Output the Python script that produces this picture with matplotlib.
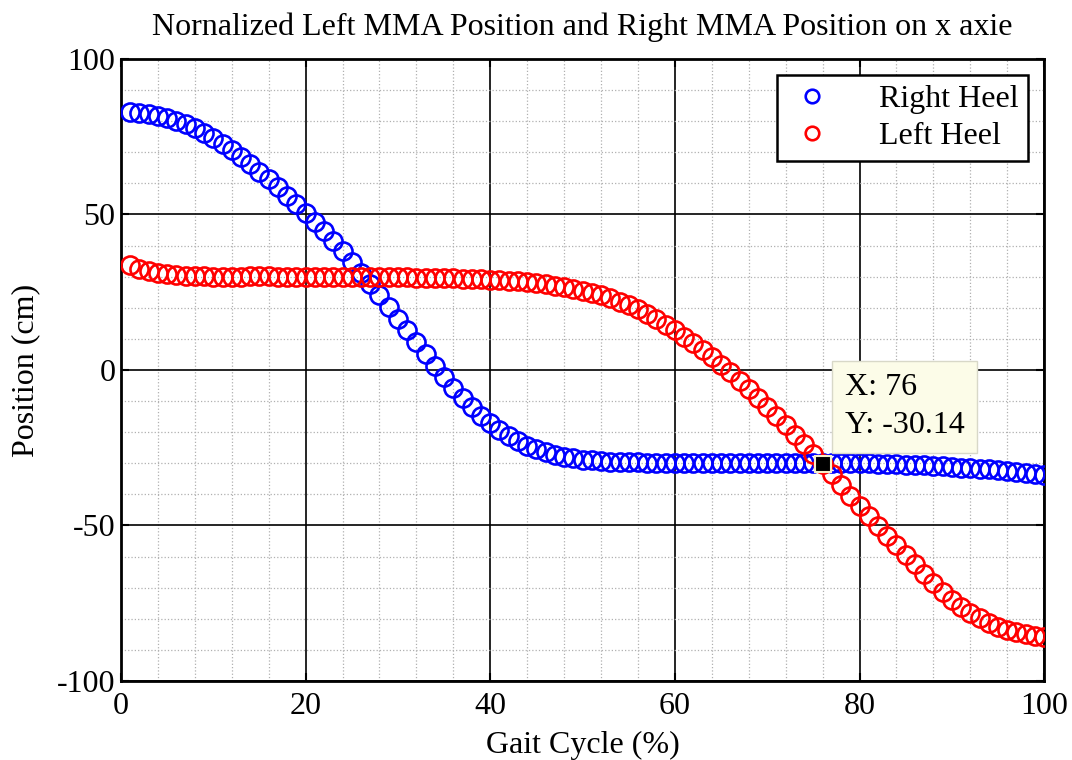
import matplotlib.pyplot as plt
import numpy as np
from matplotlib.ticker import MultipleLocator

# donnees
gait = list(range(1, 101))

right_heel = [82.8, 82.6, 82.2, 81.7, 81.0, 80.1, 79.0, 77.7, 76.2, 74.5,
              72.6, 70.6, 68.5, 66.2, 63.8, 61.3, 58.7, 56.0, 53.3, 50.6,
              47.7, 44.7, 41.5, 38.2, 34.8, 31.3, 27.7, 24.0, 20.3, 16.5,
              12.7, 8.9, 5.0, 1.2, -2.4, -5.8, -9.0, -12.0, -14.7, -17.2,
              -19.4, -21.3, -22.9, -24.3, -25.5, -26.5, -27.3, -27.9, -28.4, -28.8,
              -29.1, -29.3, -29.5, -29.6, -29.7, -29.7, -29.8, -29.8, -29.8, -29.8,
              -29.8, -29.8, -29.8, -29.8, -29.8, -29.8, -29.8, -29.8, -29.8, -29.8,
              -29.8, -29.8, -29.8, -29.8, -29.8, -29.8, -29.8, -29.9, -29.9, -30.0,
              -30.0, -30.1, -30.2, -30.3, -30.4, -30.5, -30.7, -30.8, -31.0, -31.2,
              -31.4, -31.6, -31.8, -32.0, -32.3, -32.6, -32.9, -33.2, -33.5, -33.8]

left_heel = [33.8, 32.6, 31.8, 31.2, 30.8, 30.5, 30.3, 30.2, 30.1, 30.0,
             30.0, 30.0, 30.0, 30.1, 30.1, 30.1, 30.0, 30.0, 30.0, 30.0,
             29.9, 29.9, 29.9, 29.9, 29.9, 29.9, 29.9, 29.9, 29.8, 29.8,
             29.8, 29.7, 29.7, 29.6, 29.6, 29.5, 29.4, 29.3, 29.2, 29.0,
             28.9, 28.7, 28.5, 28.2, 27.9, 27.5, 27.1, 26.6, 26.1, 25.5,
             24.8, 24.0, 23.1, 22.0, 20.8, 19.5, 18.0, 16.4, 14.6, 12.7,
             10.7, 8.6, 6.4, 4.1, 1.7, -0.8, -3.4, -6.1, -8.9, -11.8,
             -14.7, -17.7, -20.8, -23.9, -27.0, -30.14, -33.5, -37.0, -40.4, -43.8,
             -47.0, -50.2, -53.3, -56.4, -59.5, -62.5, -65.5, -68.5, -71.3, -73.9,
             -76.2, -78.2, -79.9, -81.3, -82.5, -83.5, -84.3, -85.0, -85.5, -85.9]

tip_x = 76
tip_y = -30.14

plt.rcParams['font.family'] = ['Liberation Serif', 'DejaVu Serif']
plt.rcParams['axes.unicode_minus'] = False

FS = 23

fig = plt.figure(figsize=(10.72, 7.6), dpi=100)
ax = fig.add_axes([0.1129, 0.104, 0.8611, 0.8184])

ax.plot(gait, right_heel, 'o', mfc='none', mec='blue', ms=13, mew=1.9,
        label='Right Heel', zorder=3)
ax.plot(gait, left_heel, 'o', mfc='none', mec='red', ms=13, mew=1.9,
        label='Left Heel', zorder=3)

# data tip
ax.plot(tip_x, tip_y, 's', color='black', mec='#f5f0c8', ms=12, mew=1.5, zorder=5)
ax.annotate('X: %d\nY: %.2f' % (tip_x, tip_y), xy=(tip_x, tip_y),
            xytext=(16, 17), textcoords='offset points', fontsize=FS,
            va='bottom', ha='left', linespacing=1.4,
            bbox=dict(boxstyle='square,pad=0.4', fc='#fcfce8', ec='#d8d8c8', lw=1),
            zorder=6)

ax.set_xlim(0, 100)
ax.set_ylim(-100, 100)
ax.xaxis.set_major_locator(MultipleLocator(20))
ax.xaxis.set_minor_locator(MultipleLocator(4))
ax.yaxis.set_major_locator(MultipleLocator(50))
ax.yaxis.set_minor_locator(MultipleLocator(10))

ax.grid(which='major', color='black', lw=1.2, ls='-')
ax.grid(which='minor', color='#b0b0b0', lw=0.9, ls=':')
ax.set_axisbelow(True)

ax.tick_params(which='both', direction='in', top=True, right=True, labelsize=FS)
ax.tick_params(which='major', length=6, width=1.5)
ax.tick_params(axis='x', pad=8)
ax.tick_params(axis='y', pad=4)
ax.tick_params(which='minor', length=0)
for s in ax.spines.values():
    s.set_linewidth(2)

ax.set_title('Nornalized Left MMA Position and Right MMA Position on x axie',
             fontsize=FS, pad=17)
ax.set_xlabel('Gait Cycle (%)', fontsize=FS, labelpad=7)
ax.set_ylabel('Position (cm)', fontsize=FS, labelpad=12)

leg = ax.legend(loc='upper right', fontsize=FS, fancybox=False, edgecolor='black',
                framealpha=1, markerscale=0.75, handletextpad=1.3,
                borderaxespad=0.5, handlelength=1.6, borderpad=0.3,
                labelspacing=0.25)
leg.get_frame().set_linewidth(1.8)

fig.savefig('out.png', dpi=100)
